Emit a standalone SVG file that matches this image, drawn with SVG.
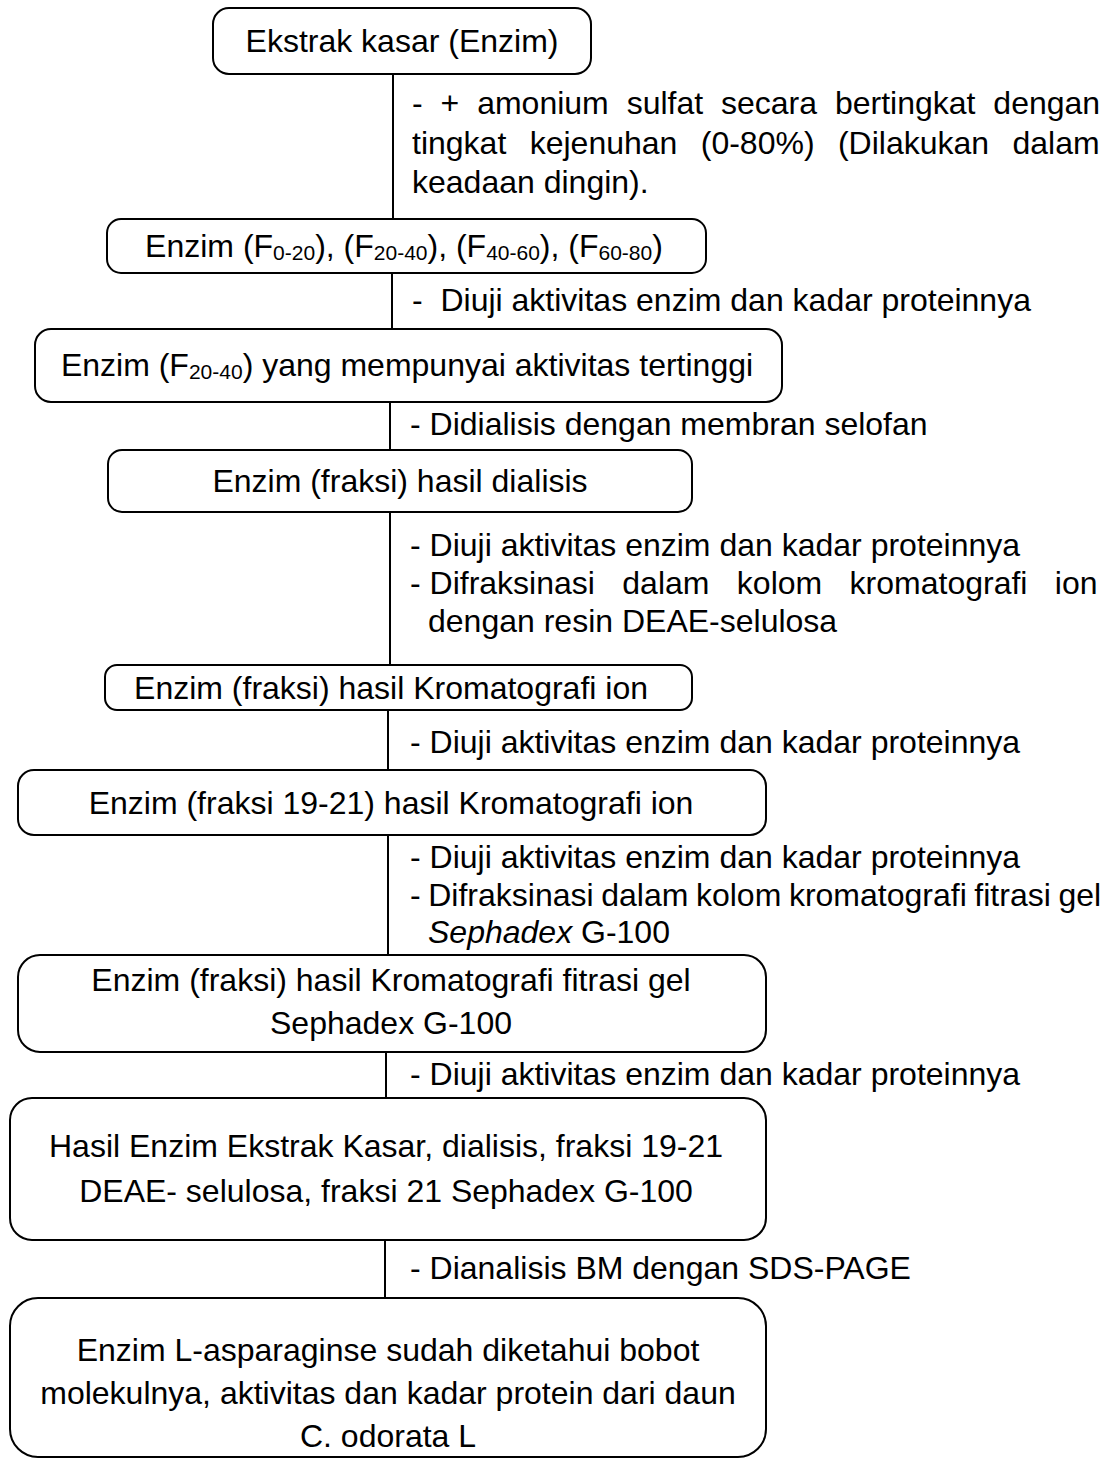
<svg xmlns="http://www.w3.org/2000/svg" width="1118" height="1462" viewBox="0 0 1118 1462">
<style>
  .box { fill: #ffffff; stroke: #000000; stroke-width: 2; }
  .t { font-family: "Liberation Sans", Arial, sans-serif; font-size: 32px; fill: #000000; }
  .c { text-anchor: middle; }
  .sub { font-size: 21px; }
  .conn { stroke: #000000; stroke-width: 2; fill: none; }
</style>
<rect width="1118" height="1462" fill="#ffffff"/>
<g id="connectors">
  <line class="conn" x1="393" y1="74" x2="393" y2="219"/>
  <line class="conn" x1="392" y1="273" x2="392" y2="329"/>
  <line class="conn" x1="390" y1="402" x2="390" y2="450"/>
  <line class="conn" x1="390" y1="512" x2="390" y2="665"/>
  <line class="conn" x1="388" y1="710" x2="388" y2="770"/>
  <line class="conn" x1="388" y1="835" x2="388" y2="955"/>
  <line class="conn" x1="386" y1="1052" x2="386" y2="1098"/>
  <line class="conn" x1="385" y1="1240" x2="385" y2="1298"/>
</g>
<g id="labels">
  <text class="t" x="412" y="114" word-spacing="9">- + amonium sulfat secara bertingkat dengan</text>
  <text class="t" x="412" y="154" word-spacing="14.5">tingkat kejenuhan (0-80%) (Dilakukan dalam</text>
  <text class="t" x="412" y="193">keadaan dingin).</text>
  <text class="t" x="412" y="311" xml:space="preserve">-  Diuji aktivitas enzim dan kadar proteinnya</text>
  <text class="t" x="410" y="435">- Didialisis dengan membran selofan</text>
  <text class="t" x="410" y="556">- Diuji aktivitas enzim dan kadar proteinnya</text>
  <text class="t" x="410" y="594">- <tspan word-spacing="18.5">Difraksinasi dalam kolom kromatografi ion</tspan></text>
  <text class="t" x="428" y="632">dengan resin DEAE-selulosa</text>
  <text class="t" x="410" y="753">- Diuji aktivitas enzim dan kadar proteinnya</text>
  <text class="t" x="410" y="868">- Diuji aktivitas enzim dan kadar proteinnya</text>
  <text class="t" x="410" y="906" word-spacing="-1.3">- Difraksinasi dalam kolom kromatografi fitrasi gel</text>
  <text class="t" x="428" y="943"><tspan font-style="italic">Sephadex</tspan> G-100</text>
  <text class="t" x="410" y="1085">- Diuji aktivitas enzim dan kadar proteinnya</text>
  <text class="t" x="410" y="1279">- Dianalisis BM dengan SDS-PAGE</text>
</g>
<g id="n1">
  <rect class="box" x="213" y="8" width="378" height="66" rx="16"/>
  <text class="t c" x="402" y="52">Ekstrak kasar (Enzim)</text>
</g>
<g id="n2">
  <rect class="box" x="107" y="219" width="599" height="54" rx="14"/>
  <text class="t c" x="404" y="257">Enzim (F<tspan class="sub" dy="3">0-20</tspan><tspan dy="-3">), (F</tspan><tspan class="sub" dy="3">20-40</tspan><tspan dy="-3">), (F</tspan><tspan class="sub" dy="3">40-60</tspan><tspan dy="-3">), (F</tspan><tspan class="sub" dy="3">60-80</tspan><tspan dy="-3">)</tspan></text>
</g>
<g id="n3">
  <rect class="box" x="35" y="329" width="747" height="73" rx="16"/>
  <text class="t c" x="407" y="376">Enzim (F<tspan class="sub" dy="3">20-40</tspan><tspan dy="-3">) yang mempunyai aktivitas tertinggi</tspan></text>
</g>
<g id="n4">
  <rect class="box" x="108" y="450" width="584" height="62" rx="14"/>
  <text class="t c" x="400" y="492">Enzim (fraksi) hasil dialisis</text>
</g>
<g id="n5">
  <rect class="box" x="105" y="665" width="587" height="45" rx="12"/>
  <text class="t c" x="391" y="699">Enzim (fraksi) hasil Kromatografi ion</text>
</g>
<g id="n6">
  <rect class="box" x="18" y="770" width="748" height="65" rx="16"/>
  <text class="t c" x="391" y="814">Enzim (fraksi 19-21) hasil Kromatografi ion</text>
</g>
<g id="n7">
  <rect class="box" x="18" y="955" width="748" height="97" rx="22"/>
  <text class="t c" x="391" y="991">Enzim (fraksi) hasil Kromatografi fitrasi gel</text>
  <text class="t c" x="391" y="1034">Sephadex G-100</text>
</g>
<g id="n8">
  <rect class="box" x="10" y="1098" width="756" height="142" rx="22"/>
  <text class="t c" x="386" y="1157">Hasil Enzim Ekstrak Kasar, dialisis, fraksi 19-21</text>
  <text class="t c" x="386" y="1202">DEAE- selulosa, fraksi 21 Sephadex G-100</text>
</g>
<g id="n9">
  <rect class="box" x="10" y="1298" width="756" height="159" rx="28"/>
  <text class="t c" x="388" y="1361">Enzim L-asparaginse sudah diketahui bobot</text>
  <text class="t c" x="388" y="1404">molekulnya, aktivitas dan kadar protein dari daun</text>
  <text class="t c" x="388" y="1447">C. odorata L</text>
</g>
</svg>
